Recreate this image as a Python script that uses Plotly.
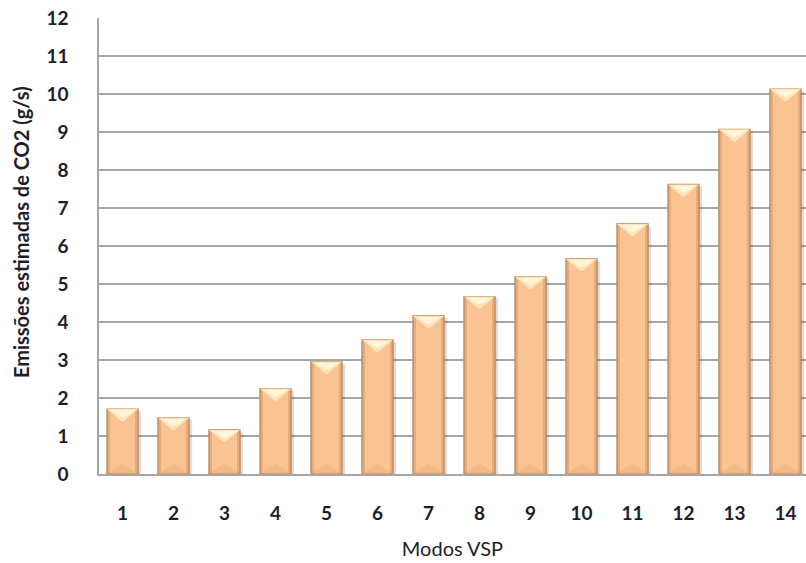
import plotly.graph_objects as go

# Modos VSP e emissões estimadas de CO2 (g/s)
modos = list(range(1, 15))
emissoes = [1.71, 1.48, 1.16, 2.25, 2.96, 3.53, 4.16, 4.67, 5.19, 5.66, 6.58, 7.62, 9.07, 10.13]
y_ticks = list(range(0, 13))

BAR_W = 0.61
HALF = BAR_W / 2
TOP_BEVEL = 0.32      # depth of the top highlight, in data units
BOTTOM_BEVEL = 0.28   # depth of the bottom shading, in data units

FONT = "Lato"
TEXT = "#1d1d2b"
GRID = "#a6a6a6"

fig = go.Figure()

# soft drop shadow behind each bar
fig.add_trace(go.Bar(
    x=modos, y=[v + 0.02 for v in emissoes], base=-0.08,
    width=BAR_W + 0.03, offset=-HALF + 0.03,
    marker=dict(color="rgba(60,60,60,0.18)", line=dict(width=0)),
    hoverinfo="skip", showlegend=False,
))

# main bars
fig.add_trace(go.Bar(
    x=modos, y=emissoes, width=BAR_W, offset=-HALF,
    marker=dict(color="#FAC393", line=dict(color="#B98558", width=1.2)),
    showlegend=False,
))

# darker inner strips along the bar sides
side_x, side_y = [], []
for m, v in zip(modos, emissoes):
    for x0, x1 in ((m - HALF, m - HALF + 0.06), (m + HALF - 0.06, m + HALF)):
        side_x += [x0, x1, x1, x0, x0, None]
        side_y += [0, 0, v, v, 0, None]
fig.add_trace(go.Scatter(
    x=side_x, y=side_y, mode="lines", fill="toself",
    fillcolor="rgba(190,120,70,0.3)", line=dict(width=0),
    hoverinfo="skip", showlegend=False,
))

# bottom bevel, a faint darker wedge
bot_x, bot_y = [], []
for m, v in zip(modos, emissoes):
    bot_x += [m - HALF, m + HALF, m, m - HALF, None]
    bot_y += [0, 0, BOTTOM_BEVEL, 0, None]
fig.add_trace(go.Scatter(
    x=bot_x, y=bot_y, mode="lines", fill="toself",
    fillcolor="rgba(215,150,100,0.22)", line=dict(width=0),
    hoverinfo="skip", showlegend=False,
))

# top bevel highlight
top_x, top_y = [], []
for m, v in zip(modos, emissoes):
    top_x += [m - HALF, m + HALF, m + 0.02, m - 0.02, m - HALF, None]
    top_y += [v, v, v - TOP_BEVEL, v - TOP_BEVEL, v, None]
fig.add_trace(go.Scatter(
    x=top_x, y=top_y, mode="lines", fill="toself",
    fillcolor="#FFE4BA", line=dict(width=0),
    hoverinfo="skip", showlegend=False,
))
hi_x, hi_y = [], []
for m, v in zip(modos, emissoes):
    hi_x += [m - HALF + 0.05, m + HALF - 0.05, m, m - HALF + 0.05, None]
    hi_y += [v - 0.03, v - 0.03, v - TOP_BEVEL * 0.7, v - 0.03, None]
fig.add_trace(go.Scatter(
    x=hi_x, y=hi_y, mode="lines", fill="toself",
    fillcolor="#FFF5D8", line=dict(width=0),
    hoverinfo="skip", showlegend=False,
))

fig.update_layout(
    width=806, height=563,
    margin=dict(l=99, r=0, t=18, b=89),
    plot_bgcolor="white", paper_bgcolor="white",
    barmode="overlay",
    font=dict(family=FONT, color=TEXT),
    xaxis=dict(
        range=[0.539, 14.402],
        tickmode="array", tickvals=modos, ticktext=[str(m) for m in modos],
        tickfont=dict(family=FONT, size=19, color=TEXT, weight="bold"),
        ticks="", ticklabelstandoff=21,
        showgrid=False, zeroline=False,
        showline=True, linecolor=GRID, linewidth=1.5,
        title=dict(text="Modos VSP", font=dict(family=FONT, size=20, color=TEXT),
                   standoff=19),
    ),
    yaxis=dict(
        range=[0, 12],
        tickmode="array", tickvals=y_ticks, ticktext=[str(t) for t in y_ticks],
        tickfont=dict(family=FONT, size=19, color=TEXT, weight="bold"),
        ticks="", ticklabelstandoff=25,
        showgrid=True, gridcolor=GRID, gridwidth=1.5,
        zeroline=False,
        showline=True, linecolor=GRID, linewidth=1.5,
    ),
    annotations=[dict(
        text="Emissões estimadas de CO2 (g/s)",
        xref="paper", yref="paper", x=-0.11, y=0.531,
        xanchor="center", yanchor="middle", textangle=-90, showarrow=False,
        font=dict(family=FONT, size=20, color=TEXT, weight="bold"),
    )],
)

fig.write_html("out.html")
